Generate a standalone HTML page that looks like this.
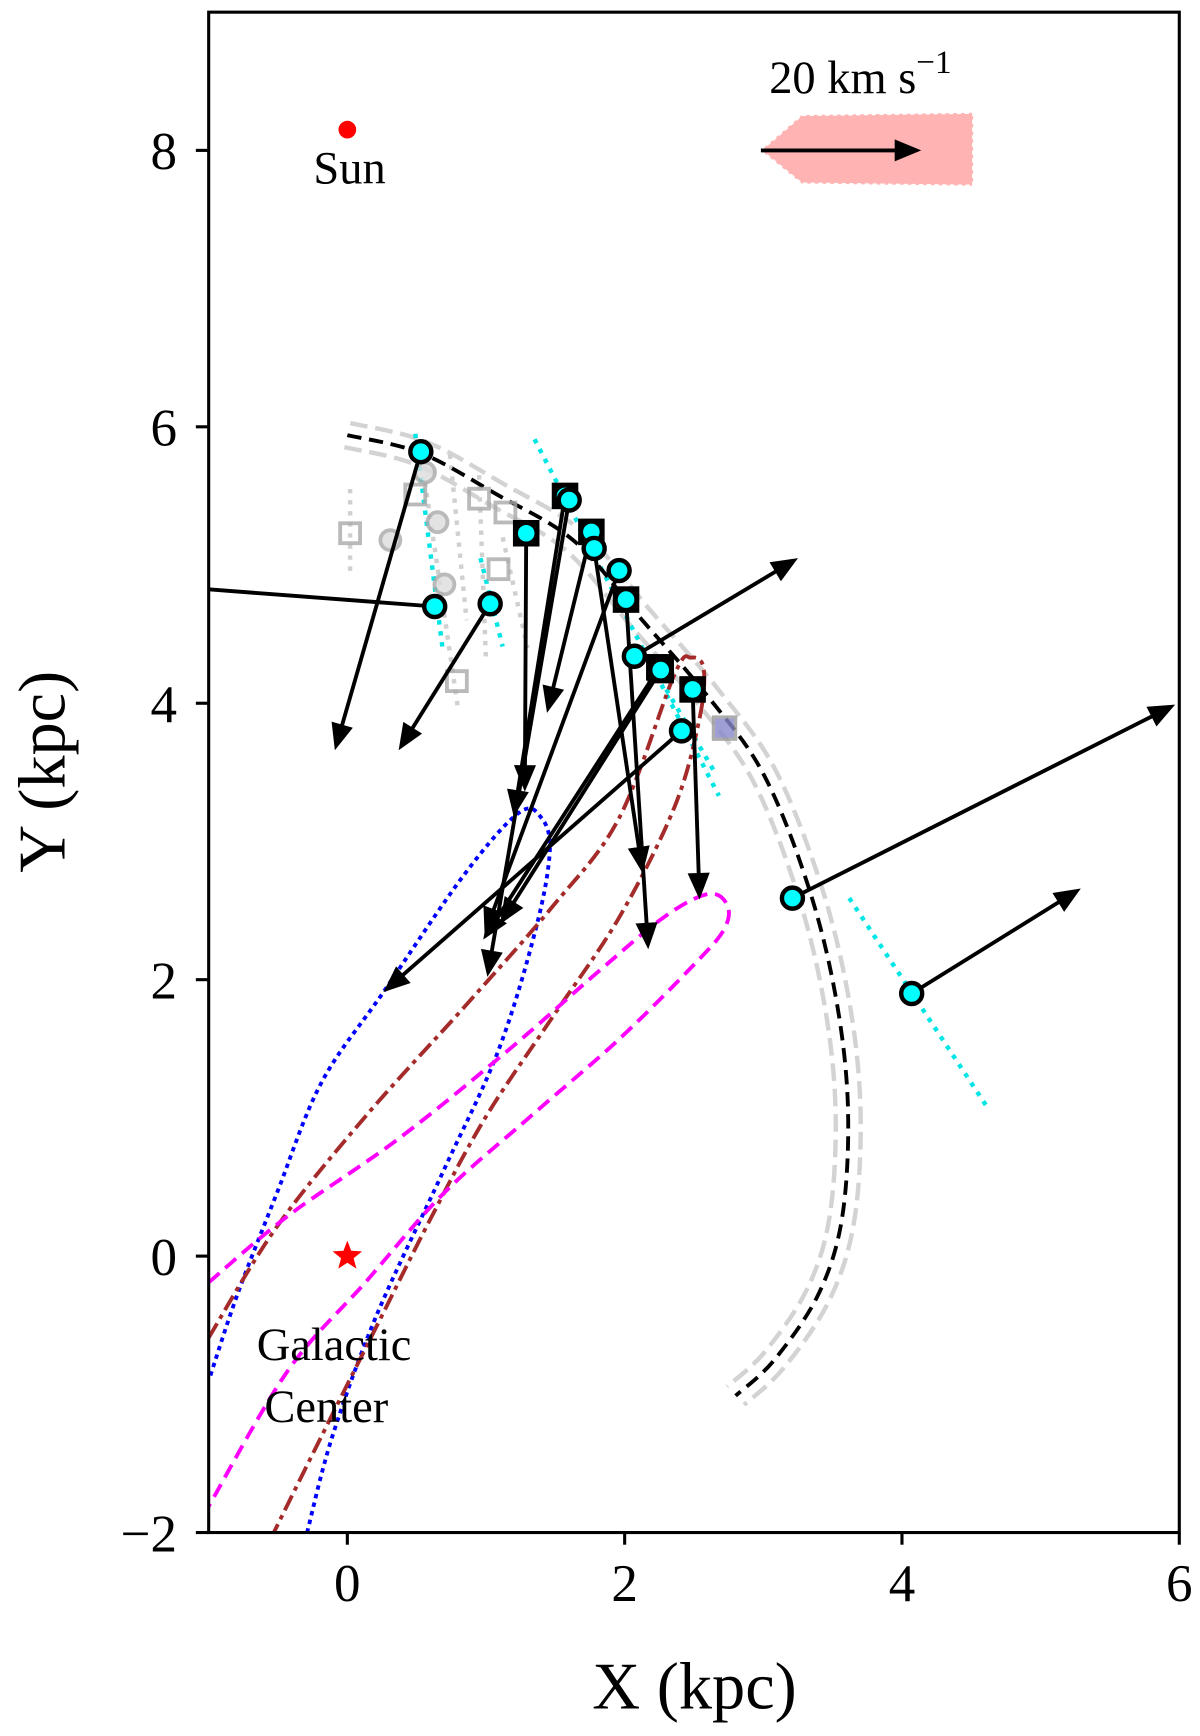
<!DOCTYPE html>
<html><head><meta charset="utf-8"><style>html,body{margin:0;padding:0;background:#fff}svg{display:block}text{font-family:"Liberation Serif",serif}</style></head>
<body>
<svg id="chart" width="1200" height="1736" viewBox="0 0 1085 1570" xmlns="http://www.w3.org/2000/svg">
<defs><clipPath id="clip"><rect x="188.6" y="11" width="877.8" height="1375"/></clipPath></defs>
<rect x="0" y="0" width="1085" height="1570" fill="#fff"/>
<g id="plot" clip-path="url(#clip)"></g>
<rect x="188.6" y="11" width="877.8" height="1375" fill="none" stroke="#000" stroke-width="2.8"/>
<g id="axes"></g>
</svg>
<script>
const xTicks=[0,2,4,6];
const yTicks=[-2,0,2,4,6,8];
// stars: start positions, velocity-arrow endpoints, marker kind
const starX=[0.53,0.63,1.03,1.29,1.57,1.60,1.76,1.78,1.96,2.01,2.07,2.25,2.26,2.49,2.41,3.21,4.07];
const starY=[5.82,4.70,4.72,5.23,5.50,5.47,5.24,5.12,4.96,4.75,4.34,4.26,4.24,4.10,3.80,2.59,1.90];
const endX=[-0.09,-2.0,0.37,1.28,1.20,1.01,1.44,2.13,0.99,2.17,3.25,0.98,1.10,2.54,0.26,5.97,5.29];
const endY=[3.66,4.90,3.66,3.36,3.18,2.02,3.93,2.77,2.33,2.22,5.05,2.29,2.40,2.58,1.91,3.99,2.66];
const starKind=["c","c","c","s","s","c","s","c","c","s","c","s","s","s","c","c","c"];
const greySqX=[0.02,0.49,0.95,1.14,1.09,0.79];
const greySqY=[5.23,5.51,5.48,5.38,4.97,4.16];
const greyCiX=[0.31,0.65,0.70,0.56];
const greyCiY=[5.18,5.31,4.86,5.67];
const spiralX=[0,0.53,1.08,1.64,2.12,2.60,3.00,3.32,3.52,3.61,3.57,3.40,3.08,2.80];
const spiralY=[5.94,5.81,5.51,5.17,4.61,4.05,3.49,2.69,1.89,1.09,0.29,-0.27,-0.75,-1.01];
const blueX=[-0.29,-0.11,0.21,0.69,1.09,1.36,1.46,1.40,1.24,0.85,0.26,-0.19,-0.51,-0.79,-0.99];
const blueY=[-2.0,-1.31,-0.43,0.61,1.49,2.37,2.93,3.17,3.21,2.77,1.91,1.25,0.45,-0.27,-0.87];
const brownX=[-1.0,-0.51,0.13,0.85,1.48,1.96,2.36,2.48,2.57,2.54,2.36,1.96,1.48,1.00,0.61,0.21,-0.19,-0.53];
const brownY=[-0.59,0.21,1.01,1.81,2.53,3.17,4.21,4.33,4.25,3.89,3.25,2.45,1.73,1.01,0.29,-0.51,-1.31,-2.0];
const magX=[-1.0,-0.43,0.37,1.16,1.80,2.28,2.60,2.74,2.72,2.52,1.96,1.32,0.69,0.13,-0.43,-1.0];
const magY=[-0.19,0.29,0.85,1.49,2.05,2.45,2.62,2.54,2.37,2.13,1.57,1.01,0.45,-0.19,-0.83,-1.81];
const cyanX1=[0.49,0.96,1.35,3.62,2.30];
const cyanY1=[5.95,5.05,5.91,2.59,4.10];
const cyanX2=[0.69,1.12,2.68,4.62,2.65];
const cyanY2=[4.37,4.41,3.33,1.07,3.50];
const gdotX1=[0.02,0.56,0.74,0.95,1.12];
const gdotY1=[5.55,5.60,5.80,5.65,5.20];
const gdotX2=[0.02,0.80,0.86,1.00,1.30];
const gdotY2=[4.95,3.95,4.60,4.30,4.40];

const NS="http://www.w3.org/2000/svg";
const X=v=>314+125.4*v, Y=v=>1136-125*v;
const plot=document.getElementById('plot'), axes=document.getElementById('axes');
function mk(tag,attrs,parent){const e=document.createElementNS(NS,tag);for(const k in attrs)e.setAttribute(k,attrs[k]);(parent||plot).appendChild(e);return e;}
function smooth(P){let d='M'+P[0][0].toFixed(1)+','+P[0][1].toFixed(1);
 for(let i=0;i<P.length-1;i++){const p0=P[Math.max(0,i-1)],p1=P[i],p2=P[i+1],p3=P[Math.min(P.length-1,i+2)];
 const c1=[p1[0]+(p2[0]-p0[0])/6,p1[1]+(p2[1]-p0[1])/6],c2=[p2[0]-(p3[0]-p1[0])/6,p2[1]-(p3[1]-p1[1])/6];
 d+=` C${c1[0].toFixed(1)},${c1[1].toFixed(1)} ${c2[0].toFixed(1)},${c2[1].toFixed(1)} ${p2[0].toFixed(1)},${p2[1].toFixed(1)}`;}
 return d;}
function pathOf(xs,ys){return smooth(xs.map((v,i)=>[X(v),Y(ys[i])]));}

xTicks.forEach(t=>{
  const l=mk('line',{x1:X(t),x2:X(t),y1:1386,y2:1397,stroke:'#000','stroke-width':2.8},axes);
  
  
  const tx=mk('text',{x:X(t),y:1448,'font-size':48,'text-anchor':'middle'},axes);
  tx.textContent=t<0?'\u2212'+(-t):String(t);
  
  
});
yTicks.forEach(t=>{
  const l=mk('line',{x1:177,x2:188.6,y1:Y(t),y2:Y(t),stroke:'#000','stroke-width':2.8},axes);
  
  
  const tx=mk('text',{x:160,y:Y(t)+17,'font-size':48,'text-anchor':'end'},axes);
  tx.textContent=t<0?'\u2212'+(-t):String(t);
  
  
});
let t1=mk('text',{x:628,y:1545,'font-size':60,'text-anchor':'middle'},axes);t1.textContent='X (kpc)';


let t2=mk('text',{x:0,y:0,'font-size':60,'text-anchor':'middle',transform:'translate(58,698) rotate(-90)'},axes);t2.textContent='Y (kpc)';



function offsetPath(d){const o=[];for(let i=0;i<spiralX.length;i++){const a=Math.max(0,i-1),b=Math.min(spiralX.length-1,i+1);let dx=spiralX[b]-spiralX[a],dy=spiralY[b]-spiralY[a];const n=Math.hypot(dx,dy);o.push([X(spiralX[i]+d*dy/n),Y(spiralY[i]-d*dx/n)]);}return smooth(o);}
[0.09,-0.09].forEach(d=>{const p=mk('path',{d:offsetPath(d),fill:'none',stroke:'#d3d3d3','stroke-width':4,'stroke-dasharray':'16 7'});

});
gdotX1.forEach((v,i)=>{const l=mk('line',{x1:X(v),y1:Y(gdotY1[i]),x2:X(gdotX2[i]),y2:Y(gdotY2[i]),stroke:'#d0d0d0','stroke-width':4,'stroke-dasharray':'4 6'});

});
cyanX1.forEach((v,i)=>{const l=mk('line',{x1:X(v),y1:Y(cyanY1[i]),x2:X(cyanX2[i]),y2:Y(cyanY2[i]),stroke:'#00e5e5','stroke-width':4,'stroke-dasharray':'4 6'});

});
let sp=mk('path',{d:pathOf(spiralX,spiralY),fill:'none',stroke:'#000','stroke-width':3.5,'stroke-dasharray':'13 7'});


let ob=mk('path',{d:pathOf(blueX,blueY),fill:'none',stroke:'#0000ff','stroke-width':3.5,'stroke-dasharray':'4 4'});


let obr=mk('path',{d:pathOf(brownX,brownY),fill:'none',stroke:'#a52a2a','stroke-width':3.5,'stroke-dasharray':'15 5 4 5'});


let om=mk('path',{d:pathOf(magX,magY),fill:'none',stroke:'#ff00ff','stroke-width':3.5,'stroke-dasharray':'13 7'});


greySqX.forEach((v,i)=>{const r=mk('rect',{x:X(v)-9,y:Y(greySqY[i])-9,width:18,height:18,fill:'none',stroke:'#a9a9a9','stroke-width':3.5,opacity:0.8});

});
greyCiX.forEach((v,i)=>{const c=mk('circle',{cx:X(v),cy:Y(greyCiY[i]),r:9,fill:'#ddd',stroke:'#a9a9a9','stroke-width':3.5,opacity:0.8});

});
let gq=mk('rect',{x:X(2.72)-10,y:Y(3.82)-10,width:20,height:20,fill:'#8888cc',stroke:'#999','stroke-width':3,opacity:0.8});


function arrow(x1,y1,x2,y2){const dx=x2-x1,dy=y2-y1,n=Math.hypot(dx,dy),ux=dx/n,uy=dy/n,L=24,W=10;
 const bx=x2-ux*L,by=y2-uy*L;
 const g=mk('g',{});
 mk('line',{x1:x1,y1:y1,x2:bx+ux*2,y2:by+uy*2,stroke:'#000','stroke-width':3.5},g);
 mk('polygon',{points:`${x2},${y2} ${bx-uy*W},${by+ux*W} ${bx+uy*W},${by-ux*W}`,fill:'#000'},g);
 return g;}
starX.forEach((v,i)=>{const g=arrow(X(v),Y(starY[i]),X(endX[i]),Y(endY[i]));

});
starX.forEach((v,i)=>{
 if(starKind[i]==='s'){const r=mk('rect',{x:X(v)-12,y:Y(starY[i])-12,width:24,height:24,fill:'#000'});
 
 }
 const c=mk('circle',{cx:X(v),cy:Y(starY[i]),r:9.5,fill:'#00ffff',stroke:'#000','stroke-width':4});
 
 
});
let sun=mk('circle',{cx:X(0),cy:Y(8.15),r:8,fill:'#ff0000'});


let st=mk('text',{x:X(0)+2,y:166,'font-size':42,'text-anchor':'middle'});st.textContent='Sun';


const sp5=[];for(let k=0;k<10;k++){const r=k%2?6:14,a=-Math.PI/2+k*Math.PI/5;sp5.push((X(0)+r*Math.cos(a)).toFixed(1)+','+(Y(0)+r*Math.sin(a)).toFixed(1));}
let gc=mk('polygon',{points:sp5.join(' '),fill:'#ff0000'});


let g1=mk('text',{x:302,y:1230,'font-size':42,'text-anchor':'middle'});g1.textContent='Galactic';


let g2=mk('text',{x:295,y:1286,'font-size':42,'text-anchor':'middle'});g2.textContent='Center';


let pk=mk('polygon',{points:'688,136 725,104 880,102 880,168 725,166',fill:'#ffb3b3',stroke:'#ffffff','stroke-width':2,'stroke-dasharray':'4 3'});


let la=arrow(688,136,833,136);


let lt=mk('text',{x:778,y:84,'font-size':42,'text-anchor':'middle'});
lt.innerHTML='20 km s<tspan dy="-18" font-size="30">\u22121</tspan>';


</script>
</body></html>
